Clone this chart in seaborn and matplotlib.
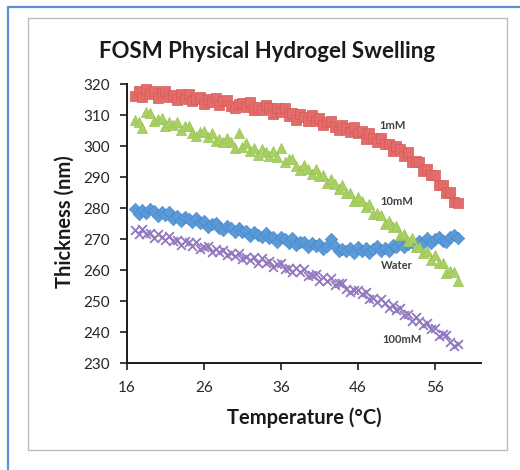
import matplotlib
matplotlib.use("Agg")
import matplotlib.pyplot as plt
from matplotlib.patches import Rectangle
from matplotlib.lines import Line2D
import seaborn as sns
import pandas as pd

temps = [17.0, 17.5, 18.0, 18.5, 19.0, 19.5, 20.0, 20.5, 21.0, 21.5,
         22.0, 22.5, 23.0, 23.5, 24.0, 24.5, 25.0, 25.5, 26.0, 26.5,
         27.0, 27.5, 28.0, 28.5, 29.0, 29.5, 30.0, 30.5, 31.0, 31.5,
         32.0, 32.5, 33.0, 33.5, 34.0, 34.5, 35.0, 35.5, 36.0, 36.5,
         37.0, 37.5, 38.0, 38.5, 39.0, 39.5, 40.0, 40.5, 41.0, 41.5,
         42.0, 42.5, 43.0, 43.5, 44.0, 44.5, 45.0, 45.5, 46.0, 46.5,
         47.0, 47.5, 48.0, 48.5, 49.0, 49.5, 50.0, 50.5, 51.0, 51.5,
         52.0, 52.5, 53.0, 53.5, 54.0, 54.5, 55.0, 55.5, 56.0, 56.5,
         57.0, 57.5, 58.0, 58.5, 59.0]

thick_1mM = [316.0, 317.7, 315.9, 318.4, 316.9, 317.7, 315.6, 317.2, 317.7, 315.7,
             316.5, 314.9, 316.8, 315.3, 316.9, 314.4, 315.3, 315.8, 313.5, 315.1,
             314.2, 315.5, 313.1, 314.6, 314.8, 312.9, 312.1, 313.6, 314.0, 312.5,
             314.1, 311.5, 312.6, 311.6, 313.1, 312.2, 310.4, 312.1, 310.9, 312.1,
             309.6, 310.7, 308.5, 310.3, 309.4, 308.2, 309.9, 308.1, 309.0, 306.7,
             307.9, 308.1, 306.2, 305.1, 306.9, 305.9, 304.4, 306.2, 304.1, 304.7,
             302.4, 304.1, 302.5, 301.3, 302.7, 300.5, 300.7, 298.5, 300.0, 298.9,
             296.9, 298.0, 294.9, 295.2, 294.8, 291.8, 292.5, 290.5, 290.6, 287.4,
             287.4, 285.0, 285.3, 282.0, 281.6]

thick_10mM = [308.4, 307.6, 305.9, 310.9, 310.7, 308.1, 308.7, 309.0, 306.5, 307.9,
              306.7, 307.8, 305.2, 306.4, 306.4, 304.3, 303.2, 304.5, 304.7, 302.9,
              304.3, 301.5, 302.4, 301.2, 302.5, 301.4, 299.4, 304.3, 299.8, 300.9,
              298.4, 299.4, 297.2, 298.9, 298.0, 296.7, 298.3, 296.4, 299.3, 294.7,
              295.7, 295.8, 293.7, 292.4, 293.9, 292.7, 291.0, 292.6, 290.2, 290.5,
              288.0, 289.5, 287.7, 286.2, 287.3, 284.9, 284.9, 282.4, 283.7, 282.4,
              280.3, 281.2, 278.1, 278.3, 277.9, 274.9, 275.7, 273.8, 274.1, 271.2,
              271.5, 269.5, 270.2, 267.3, 267.5, 265.6, 266.2, 263.2, 264.7, 262.2,
              262.1, 259.1, 259.8, 259.4, 256.4]

thick_water = [279.8, 278.0, 279.2, 278.5, 279.8, 279.0, 277.5, 278.8, 277.7, 278.6,
               276.6, 277.4, 275.7, 277.1, 276.4, 275.4, 276.7, 275.2, 275.9, 274.0,
               274.9, 275.2, 273.6, 272.8, 274.1, 273.4, 272.3, 273.7, 272.1, 272.7,
               270.9, 272.4, 271.3, 270.5, 271.8, 270.2, 270.6, 269.1, 270.6, 270.0,
               268.8, 270.2, 268.1, 268.9, 269.1, 267.3, 268.6, 267.7, 268.5, 266.8,
               267.6, 269.9, 267.9, 266.2, 266.9, 266.1, 267.2, 265.5, 267.4, 266.2,
               267.0, 265.5, 266.9, 267.6, 266.2, 267.2, 266.2, 268.1, 267.3, 268.9,
               267.3, 268.3, 269.0, 267.6, 269.2, 268.8, 270.2, 268.6, 270.1, 270.6,
               269.4, 269.1, 270.6, 271.3, 270.4]

thick_100mM = [272.9, 271.7, 273.1, 271.5, 272.0, 270.2, 271.7, 270.5, 269.7, 270.9,
               269.3, 269.6, 268.1, 269.5, 268.9, 267.6, 268.9, 266.8, 267.5, 267.6,
               265.7, 266.9, 265.9, 266.6, 264.8, 265.5, 264.4, 265.5, 263.7, 264.2,
               263.2, 264.1, 262.2, 263.8, 262.3, 262.8, 260.9, 261.9, 262.2, 260.4,
               260.8, 259.3, 260.6, 259.3, 260.3, 258.1, 258.5, 258.6, 256.6, 257.6,
               256.6, 257.3, 255.1, 255.9, 255.8, 253.9, 252.9, 253.7, 253.7, 252.1,
               253.0, 250.5, 251.1, 249.8, 250.7, 249.5, 247.6, 248.6, 247.2, 247.8,
               245.4, 245.9, 243.7, 244.7, 243.5, 242.1, 243.0, 241.0, 241.2, 238.8,
               239.2, 238.9, 236.8, 235.4, 236.1]

series_names = ["Water", "100mM", "1mM", "10mM"]
x_ticks = [16, 26, 36, 46, 56]
y_ticks = [230, 240, 250, 260, 270, 280, 290, 300, 310, 320]

data = {"Water": thick_water, "100mM": thick_100mM, "1mM": thick_1mM, "10mM": thick_10mM}
frames = []
for name in series_names:
    frames.append(pd.DataFrame({"Temperature": temps, "Thickness": data[name], "Series": name}))
df = pd.concat(frames, ignore_index=True)

sns.set_theme(style="white")
plt.rcParams["font.family"] = ["Lato", "DejaVu Sans"]

fig = plt.figure(figsize=(5.2, 4.7), dpi=100)
fig.patch.set_facecolor("white")

# outer frame (blue, top and left) and chart box (gray)
fig.add_artist(Line2D([8 / 520, 8 / 520], [0, 1 - 7 / 470], transform=fig.transFigure,
                      color="#5b8fd0", lw=1.6))
fig.add_artist(Line2D([8 / 520, 1], [1 - 7 / 470, 1 - 7 / 470], transform=fig.transFigure,
                      color="#5b8fd0", lw=1.6))
fig.add_artist(Rectangle((28 / 520, 1 - 450 / 470), (507 - 28) / 520, (450 - 18) / 470,
                         transform=fig.transFigure, fill=False, edgecolor="#bdbdbd", lw=1.0))

ax = fig.add_axes([127 / 520, 1 - 363 / 470, (481 - 127) / 520, (363 - 84) / 470])

styles = {
    "Water": dict(marker="D", s=40, color="#5a9ad8", edgecolor="#4a8acb", linewidth=0.5),
    "100mM": dict(marker="x", s=40, color="#9278be", linewidth=1.3),
    "1mM": dict(marker="s", s=46, color="#e36c6a", edgecolor="#d65a57", linewidth=0.5),
    "10mM": dict(marker="^", s=54, color="#a9d064", edgecolor="#9cc454", linewidth=0.5),
}
for name in series_names:
    sub = df[df["Series"] == name]
    sns.scatterplot(data=sub, x="Temperature", y="Thickness", ax=ax, legend=False,
                    **styles[name])

ax.set_xlim(16, 62)
ax.set_ylim(230, 320)
ax.set_xticks(x_ticks)
ax.set_yticks(y_ticks)
ax.set_xlabel("")
ax.set_ylabel("")
for side in ["top", "right"]:
    ax.spines[side].set_visible(False)
for side in ["left", "bottom"]:
    ax.spines[side].set_color("#1a1a1a")
    ax.spines[side].set_linewidth(1.4)
ax.tick_params(axis="both", direction="out", length=5, width=1.2, color="#1a1a1a",
               labelsize=11, labelcolor="#262626")
ax.tick_params(axis="x", pad=8)
ax.tick_params(axis="y", pad=7)
ax.tick_params(bottom=True, left=True)

labels = [("1mM", 50.5, 306.5), ("10mM", 51.1, 282.2), ("Water", 51.1, 261.5), ("100mM", 51.7, 237.7)]
for txt, lx, ly in labels:
    ax.text(lx, ly, txt, fontsize=8, fontweight="bold", color="#404040",
            ha="center", va="center")

fig.text(267 / 520, 1 - 52 / 470, "FOSM Physical Hydrogel Swelling", fontsize=16,
         fontweight="bold", ha="center", va="center", color="#1a1a1a")
fig.text(304 / 520, 1 - 418 / 470, "Temperature (°C)", fontsize=14.5,
         fontweight="bold", ha="center", va="center", color="#1a1a1a")
fig.text(65 / 520, 1 - 222 / 470, "Thickness (nm)", fontsize=14.5, rotation=90,
         fontweight="bold", ha="center", va="center", color="#1a1a1a")

fig.savefig("out.png", dpi=100, facecolor="white")
